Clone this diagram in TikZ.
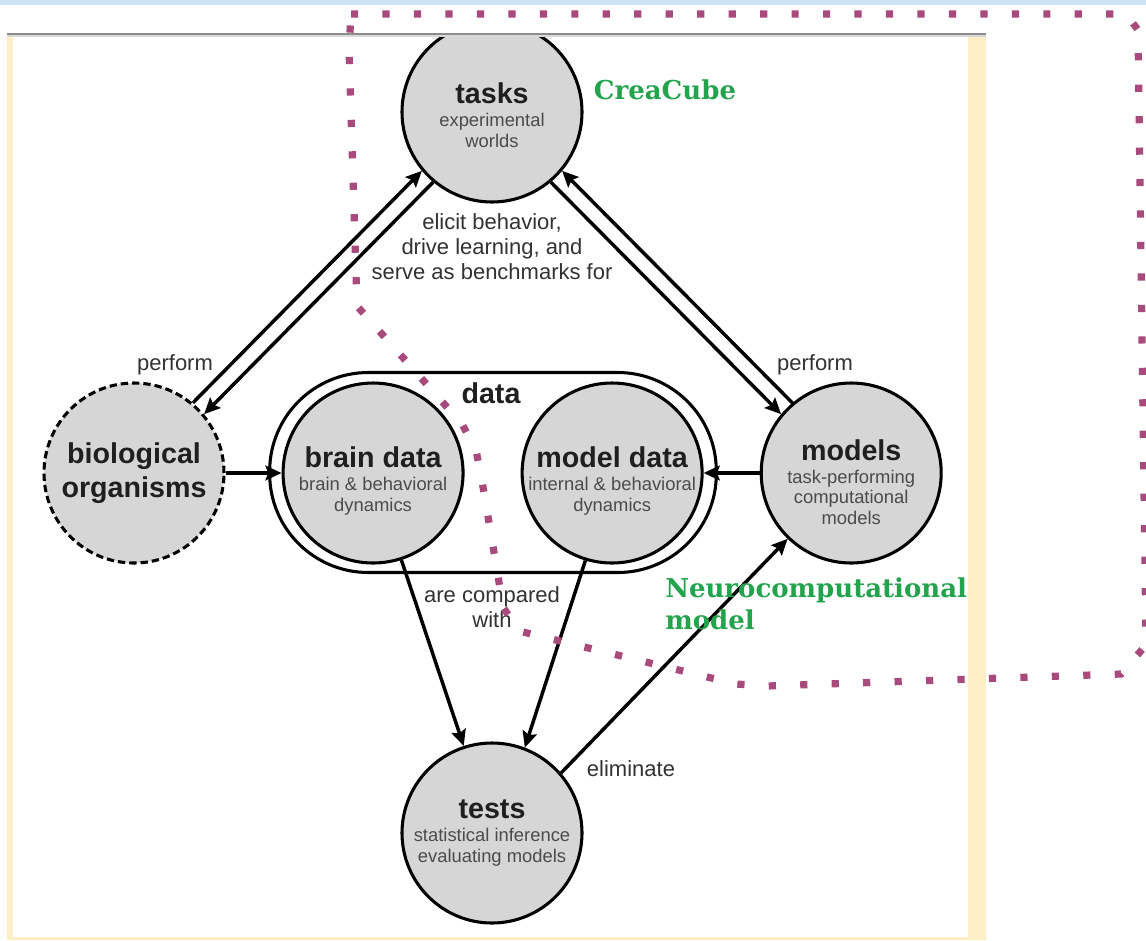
\documentclass[tikz,border=0pt]{standalone}
\usepackage{fontspec}
\setmainfont{Liberation Sans}
\newfontfamily\slabfont{DejaVu Serif}
\usepackage{tikz}
\usetikzlibrary{positioning,arrows.meta}

\definecolor{unitfill}{RGB}{214,214,214}
\definecolor{dotpurple}{RGB}{168,74,124}
\definecolor{taggreen}{RGB}{36,163,77}
\definecolor{cream}{RGB}{255,239,200}
\definecolor{barblue}{RGB}{204,227,244}
\definecolor{subgray}{RGB}{75,75,75}
\definecolor{lblgray}{RGB}{50,50,50}

% title of a unit; the optional strut pushes the text down in its circle
\newcommand{\unitname}[2][10pt]{{\fontsize{21.5}{26}\selectfont\bfseries\color{black!88}\rule{0pt}{#1}#2}}

\tikzset{
  unit/.style={circle, draw, line width=2.3pt, fill=unitfill, minimum size=135pt, inner sep=-15pt, outer sep=1.15pt, align=center, text=subgray, font=\fontsize{13.8}{15.4}\selectfont},
  wildunit/.style={unit, dash pattern=on 5.5pt off 3pt, font=\fontsize{21.5}{26}\selectfont\bfseries, text=black!88},
  arr/.style={line width=2.6pt, -{Stealth[length=12pt,width=11pt,inset=2pt]}},
  lbl/.style={inner sep=0pt, align=center, text=lblgray, font=\fontsize{16.5}{18.75}\selectfont},
  tag/.style={inner sep=0pt, align=left, text=taggreen, font=\slabfont\bfseries\fontsize{19.5}{24}\selectfont},
  dotline/.style={dotpurple, line width=5.4pt, dash pattern=on 5.4pt off 18.2pt}
}

\begin{document}
\begin{tikzpicture}[x=0.75pt, y=-0.75pt, node distance=42pt]
	\useasboundingbox (0,0) rectangle (1146,940);
	% page frame
	\fill[barblue] (0,0) rectangle (1146,5);
	\fill[cream] (7,33) rectangle (13,940);
	\fill[cream] (968,33) rectangle (986,940);
	\fill[cream] (7,937) rectangle (986,940);
	
	% data box
	\node[draw, line width=2.3pt, rounded corners=74pt, minimum width=335pt, minimum height=150pt, inner sep=0pt] (data) at (493,472.5) {};
	\node[inner sep=0pt] (datalbl) at (491,393) {\unitname{data}};
	
	% units
	\node[unit] (tasks) at (492,112) {\unitname[20pt]{tasks}\\[2pt] experimental\\ worlds};
	\node[wildunit] (bio) at (134,473) {biological\\organisms};
	\node[unit] (bdata) [right = of bio] {\unitname[27.5pt]{brain data}\\[2pt] brain \& behavioral\\ dynamics};
	\node[unit] (mdata) [right = of bdata] {\unitname[27.5pt]{model data}\\[2pt] internal \& behavioral\\ dynamics};
	\node[unit] (models) [right = of mdata] {\unitname[29pt]{models}\\[2pt] task-performing\\ computational\\ models};
	\node[unit] (tests) at (492,833) {\unitname{tests}\\[2pt] statistical inference\\ evaluating models};
	
	\path[arr] (bio.50) edge (tasks.220);
	\path[arr] (tasks.230) edge (bio.40);
	\path[arr] (models.130) edge (tasks.320);
	\path[arr] (tasks.310) edge (models.140);
	\path[arr] (bio) edge (bdata);
	\path[arr] (models) edge (mdata);
	\path[arr] (bdata.288) edge (tests.108);
	\path[arr] (mdata.253) edge (tests.69);
	\path[arr] (tests.41) edge (models.226);
	
	\node[lbl] (perfL) at (175,365) {perform};
	\node[lbl] (perfR) at (815,365) {perform};
	\node[lbl] (elicit) at (492,247) {elicit behavior,\\drive learning, and\\serve as benchmarks for};
	\node[lbl] (compared) at (492,607) {are compared\\with};
	\node[lbl] (elim) at (631,769) {eliminate};
	
	% cut the top of the figure
	\fill[white] (0,5) rectangle (1146,32.5);
	\draw[black!45, line width=1.5pt] (7,33.5) -- (986,33.5);
	\draw[black!15, line width=1.5pt] (7,35.5) -- (986,35.5);
	
	% dotted region
	\draw[dotline] (351,14) -- (1126,14) -- (1138,30) -- (1146,645) -- (1121,674) -- (767,686) -- (736,684) -- (519,631) -- (503,607) -- (498,576) -- (482,481) -- (476,450) -- (462,424) -- (357,306) -- (349,49) -- cycle;
	
	\node[tag] (crea) at (665,90) {CreaCube};
	\node[tag, anchor=west] (neuro) at (665,604) {Neurocomputational\\model};
\end{tikzpicture}
\end{document}
